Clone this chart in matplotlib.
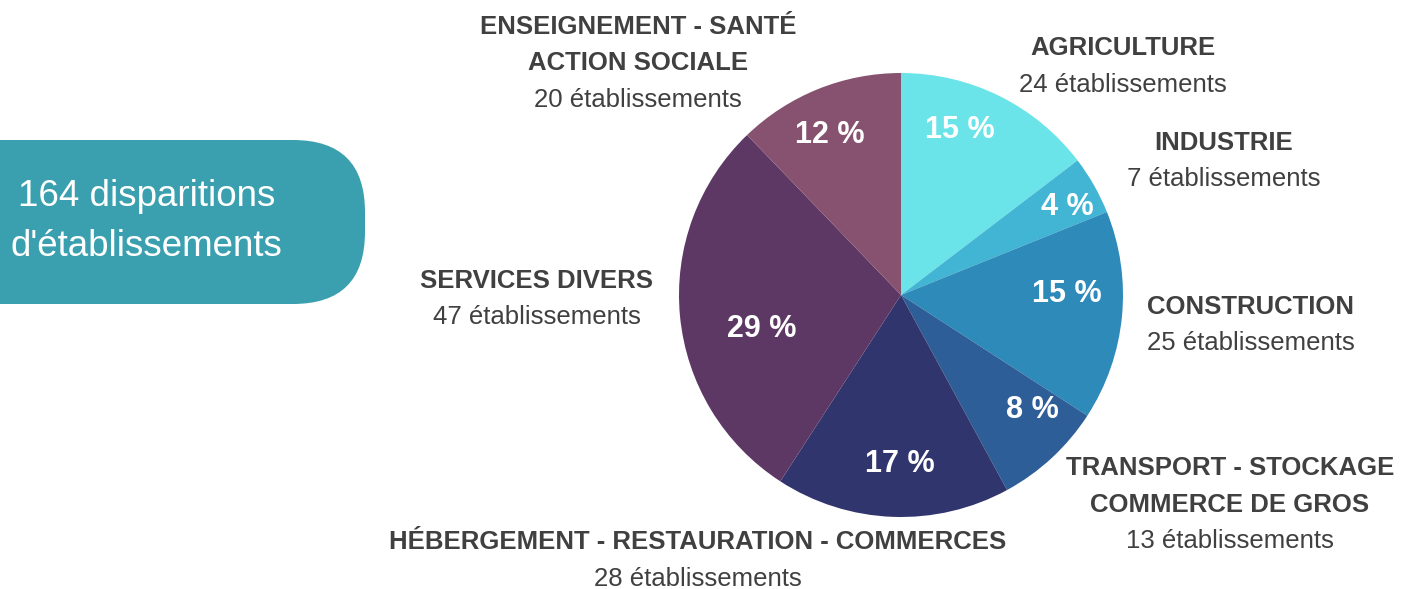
import matplotlib.pyplot as plt
from matplotlib.patches import FancyBboxPatch

plt.rcParams['font.family'] = ['Liberation Sans', 'DejaVu Sans']

secteurs = ["AGRICULTURE", "INDUSTRIE", "CONSTRUCTION",
            "TRANSPORT - STOCKAGE\nCOMMERCE DE GROS",
            "HÉBERGEMENT - RESTAURATION - COMMERCES",
            "SERVICES DIVERS",
            "ENSEIGNEMENT - SANTÉ\nACTION SOCIALE"]
etablissements = [24, 7, 25, 13, 28, 47, 20]
couleurs = ["#6AE4E8", "#42B4D4", "#2D8AB9", "#2E5E98",
            "#31356D", "#5E3865", "#87526F"]
total = sum(etablissements)

fig = plt.figure(figsize=(14.12, 5.89), dpi=100)
ax = fig.add_axes([0, 0, 1, 1])

# pie in pixel coords, y axis inverted -> counterclock=True draws clockwise on screen
ax.pie(etablissements, colors=couleurs, startangle=-90, counterclock=True,
       center=(901, 295), radius=222, wedgeprops=dict(linewidth=0))
ax.set_xlim(0, 1412)
ax.set_ylim(589, 0)
ax.set_aspect('auto')
ax.axis("off")

dy = 2  # small vertical nudge for text baseline

# percentages inside the wedges
pct_pos = [(960, 128), (1067, 205), (1067, 292), (1032, 408),
           (900, 462), (762, 327), (830, 133)]
for n, (x, y) in zip(etablissements, pct_pos):
    ax.text(x, y + dy, f"{round(100 * n / total)} %", color="white", fontsize=22,
            fontweight="bold", ha="center", va="center")

# outside labels
lab_pos = [(1123, 46), (1224, 141), (1251, 305), (1230, 466),
           (698, 540), (537, 279), (638, 25)]
grey = "#404040"
for nom, n, (x, y) in zip(secteurs, etablissements, lab_pos):
    lignes = nom.split("\n")
    for i, l in enumerate(lignes):
        ax.text(x, y + dy + 36.5 * i, l, color=grey, fontsize=18.5, fontweight="bold",
                ha="center", va="center")
    ax.text(x, y + dy + 36.5 * len(lignes), f"{n} établissements", color=grey,
            fontsize=18.5, ha="center", va="center")

# total box
box = FancyBboxPatch((-150, 140), 515, 164, boxstyle="round,pad=0,rounding_size=72",
                     fc="#3A9FAE", ec="none")
ax.add_patch(box)
ax.text(147, 195 + dy, f"{total} disparitions", color="white", fontsize=26.5,
        ha="center", va="center")
ax.text(146, 245 + dy, "d'établissements", color="white", fontsize=26.5,
        ha="center", va="center")

fig.savefig("out.png", dpi=100)
